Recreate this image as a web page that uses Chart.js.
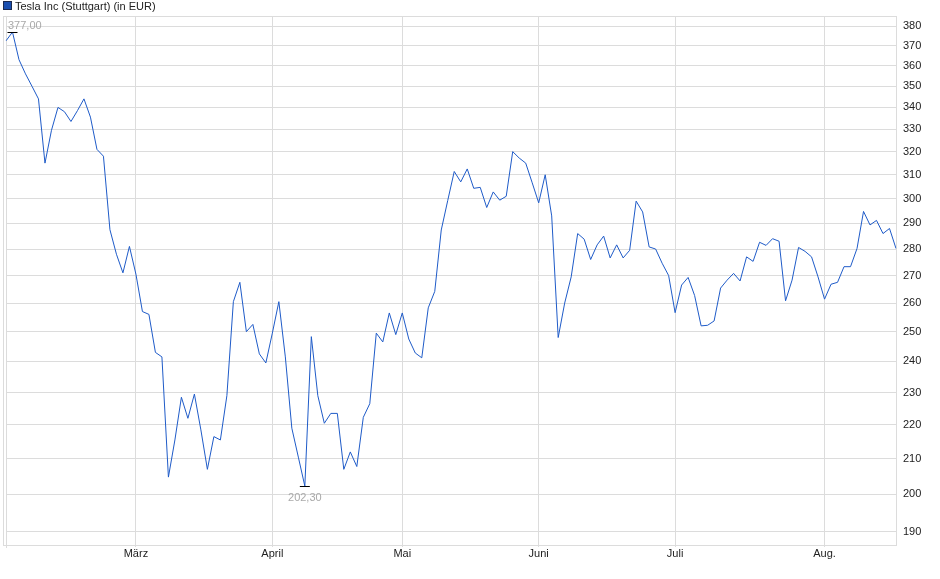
<!DOCTYPE html>
<html><head><meta charset="utf-8">
<script src="https://cdn.jsdelivr.net/npm/chart.js@4.4.1/dist/chart.umd.min.js"></script>
<style>html,body{margin:0;padding:0;background:#fff;}canvas{display:block}</style>
</head><body>
<canvas id="c" width="940" height="579"></canvas>
<script>
const seriesName = 'Tesla Inc (Stuttgart) (in EUR)';

const dates = [
 '03.02.2025','04.02.2025','05.02.2025','06.02.2025','07.02.2025','10.02.2025','11.02.2025','12.02.2025','13.02.2025','14.02.2025',
 '17.02.2025','18.02.2025','19.02.2025','20.02.2025','21.02.2025','24.02.2025','25.02.2025','26.02.2025','27.02.2025','28.02.2025',
 '03.03.2025','04.03.2025','05.03.2025','06.03.2025','07.03.2025','10.03.2025','11.03.2025','12.03.2025','13.03.2025','14.03.2025',
 '17.03.2025','18.03.2025','19.03.2025','20.03.2025','21.03.2025','24.03.2025','25.03.2025','26.03.2025','27.03.2025','28.03.2025','31.03.2025',
 '01.04.2025','02.04.2025','03.04.2025','04.04.2025','07.04.2025','08.04.2025','09.04.2025','10.04.2025','11.04.2025',
 '14.04.2025','15.04.2025','16.04.2025','17.04.2025','22.04.2025','23.04.2025','24.04.2025','25.04.2025','28.04.2025','29.04.2025','30.04.2025',
 '02.05.2025','05.05.2025','06.05.2025','07.05.2025','08.05.2025','09.05.2025','12.05.2025','13.05.2025','14.05.2025','15.05.2025','16.05.2025',
 '19.05.2025','20.05.2025','21.05.2025','22.05.2025','23.05.2025','26.05.2025','27.05.2025','28.05.2025','29.05.2025','30.05.2025',
 '02.06.2025','03.06.2025','04.06.2025','05.06.2025','06.06.2025','09.06.2025','10.06.2025','11.06.2025','12.06.2025','13.06.2025',
 '16.06.2025','17.06.2025','18.06.2025','19.06.2025','20.06.2025','23.06.2025','24.06.2025','25.06.2025','26.06.2025','27.06.2025','30.06.2025',
 '01.07.2025','02.07.2025','03.07.2025','04.07.2025','07.07.2025','08.07.2025','09.07.2025','10.07.2025','11.07.2025',
 '14.07.2025','15.07.2025','16.07.2025','17.07.2025','18.07.2025','21.07.2025','22.07.2025','23.07.2025','24.07.2025','25.07.2025',
 '28.07.2025','29.07.2025','30.07.2025','31.07.2025',
 '01.08.2025','04.08.2025','05.08.2025','06.08.2025','07.08.2025','08.08.2025','11.08.2025','12.08.2025','13.08.2025','14.08.2025','15.08.2025','18.08.2025'
];

const prices = [
 372.5,377.0,363.0,356.0,350.0,344.0,315.0,329.5,340.0,338.0,
 333.5,338.5,344.0,335.5,321.0,318.0,287.5,278.0,271.0,281.0,
 270.5,257.0,256.0,243.0,241.5,204.8,215.5,228.5,222.0,229.5,
 218.5,207.0,216.5,215.5,229.0,260.5,267.5,250.0,252.5,242.5,239.5,
 249.5,260.5,241.5,219.0,210.5,202.3,248.3,229.0,220.5,
 223.5,223.5,207.0,212.0,207.8,222.3,226.5,249.5,246.5,256.5,249.0,
 256.5,247.5,242.8,241.2,258.3,264.2,287.4,299.3,311.4,307.0,312.5,
 304.3,304.7,296.4,302.8,299.4,301.0,320.0,317.2,315.0,306.6,
 298.3,310.0,293.0,248.0,260.0,269.5,286.0,283.8,276.0,281.6,
 285.0,276.6,281.6,276.6,279.5,299.0,294.6,280.8,280.0,274.6,270.0,
 256.6,266.5,269.3,262.7,252.0,252.2,253.7,265.4,268.3,
 270.8,268.0,277.0,275.3,282.6,281.4,284.0,283.0,260.8,268.3,
 280.6,279.1,277.0,269.5,
 261.4,266.8,267.5,273.3,273.3,280.2,294.8,289.4,291.2,286.0,288.0,280.2
];

const yTickValues = [190,200,210,220,230,240,250,260,270,280,290,300,310,320,330,340,350,360,370,380];
const monthNames = ['Jan.','Feb.','März','April','Mai','Juni','Juli','Aug.','Sep.','Okt.','Nov.','Dez.'];

const FONT = 'Liberation Sans, Arial, sans-serif';
const monthOf = s => parseInt(s.slice(3,5),10);
const isMonthStart = i => i > 0 && monthOf(dates[i]) !== monthOf(dates[i-1]);
const fmt = v => v.toFixed(2).replace('.', ',');

const legendPlugin = {
  id: 'simpleLegend',
  afterDraw(chart) {
    const ctx = chart.ctx;
    ctx.save();
    ctx.fillStyle = '#1a4fb0';
    ctx.fillRect(4, 2, 7, 7);
    ctx.strokeStyle = '#1c2a50';
    ctx.lineWidth = 1;
    ctx.strokeRect(3.5, 1.5, 8, 8);
    ctx.font = '11px ' + FONT;
    ctx.fillStyle = '#222';
    ctx.textBaseline = 'middle';
    ctx.fillText(chart.data.datasets[0].label, 15, 6.5);
    ctx.restore();
  }
};

const framePlugin = {
  id: 'frame',
  beforeDatasetsDraw(chart) {
    const {ctx, chartArea: a} = chart;
    ctx.save();
    ctx.strokeStyle = '#dcdcdc';
    ctx.lineWidth = 1;
    ctx.strokeRect(Math.round(a.left) - 2.5, Math.round(a.top) + 0.5, Math.round(a.right - a.left) + 3, Math.round(a.bottom - a.top));
    ctx.beginPath();
    ctx.moveTo(Math.round(a.left) + 0.5, a.top);
    ctx.lineTo(Math.round(a.left) + 0.5, a.bottom + 3);
    ctx.stroke();
    ctx.restore();
  }
};

const extremaPlugin = {
  id: 'extrema',
  afterDatasetsDraw(chart) {
    const {ctx, chartArea: a} = chart;
    const xs = chart.scales.x, ys = chart.scales.y;
    let iMax = 0, iMin = 0;
    prices.forEach((v, i) => { if (v > prices[iMax]) iMax = i; if (v < prices[iMin]) iMin = i; });
    ctx.save();
    ctx.font = '11px ' + FONT;
    ctx.textBaseline = 'alphabetic';
    const draw = (i, above) => {
      const px = xs.getPixelForValue(i), py = Math.round(ys.getPixelForValue(prices[i])) + 0.5;
      ctx.strokeStyle = '#000';
      ctx.lineWidth = 1;
      ctx.beginPath();
      ctx.moveTo(px - 5, py); ctx.lineTo(px + 5, py);
      ctx.stroke();
      const txt = fmt(prices[i]);
      const w = ctx.measureText(txt).width;
      let tx = px - w / 2;
      tx = Math.max(a.left + 2, Math.min(a.right - w - 3, tx));
      ctx.fillStyle = '#a9a9a9';
      ctx.fillText(txt, tx, above ? py - 4 : py + 14);
    };
    draw(iMax, true);
    draw(iMin, false);
    ctx.restore();
  }
};

new Chart(document.getElementById('c'), {
  type: 'line',
  data: {
    labels: dates,
    datasets: [{
      label: seriesName,
      data: prices,
      borderColor: '#1f5bc8',
      backgroundColor: '#1a4fb0',
      borderWidth: 1,
      pointRadius: 0,
      pointHoverRadius: 0,
      tension: 0,
      fill: false
    }]
  },
  options: {
    responsive: false,
    animation: false,
    devicePixelRatio: 1,
    layout: { padding: { left: 6, right: 0, top: 16, bottom: 0 } },
    plugins: {
      tooltip: { enabled: false },
      legend: { display: false }
    },
    scales: {
      x: {
        type: 'category',
        offset: false,
        afterBuildTicks: s => { s.ticks = s.ticks.filter(t => isMonthStart(t.value)); },
        afterFit: s => { s.height = 34; },
        ticks: {
          autoSkip: false,
          maxRotation: 0,
          padding: 0,
          color: '#222',
          font: { family: FONT, size: 11 },
          callback: function (v) { return monthNames[monthOf(dates[v]) - 1]; }
        },
        grid: { color: '#dcdcdc', lineWidth: 1, drawTicks: true, tickLength: 2 },
        border: { display: true, color: '#dcdcdc' }
      },
      y: {
        type: 'logarithmic',
        position: 'right',
        min: 186.6,
        max: 385.4,
        afterBuildTicks: s => { s.ticks = yTickValues.map(v => ({ value: v })); },
        afterFit: s => { s.width = 44; },
        ticks: {
          padding: 7,
          color: '#222',
          font: { family: FONT, size: 11 },
          callback: v => String(v)
        },
        grid: { color: '#dcdcdc', lineWidth: 1, drawTicks: false },
        border: { display: true, color: '#dcdcdc' }
      }
    }
  },
  plugins: [legendPlugin, framePlugin, extremaPlugin]
});
</script>
</body></html>
